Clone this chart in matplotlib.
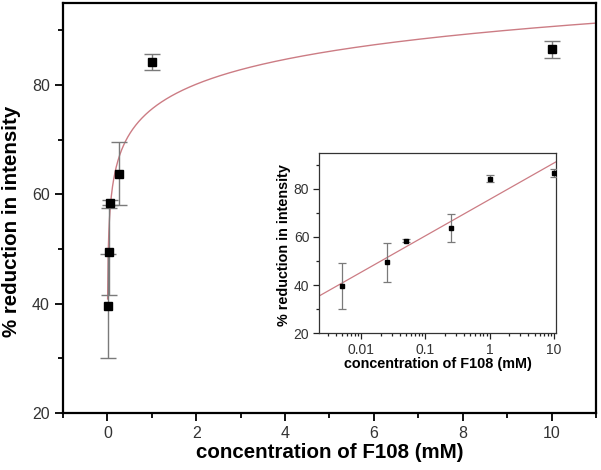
import numpy as np
import matplotlib
matplotlib.use("Agg")
import matplotlib.pyplot as plt
from matplotlib.ticker import MultipleLocator, LogLocator, NullFormatter, FixedLocator

plt.rcParams["font.family"] = ["Liberation Sans", "DejaVu Sans"]

# data
conc = [0.005, 0.025, 0.05, 0.25, 1.0, 10.0]          # mM F108
reduction = [39.5, 49.5, 58.5, 63.8, 84.2, 86.5]     # % reduction in intensity
err = [9.5, 8.0, 0.5, 5.8, 1.5, 1.6]

# log fit: y = a + b*log10(x)
fit_a = 75.6
fit_b = 15.1

fit_color = "#cc7c84"
err_color = "#7a7a7a"
tick_color = "#333333"

fig = plt.figure(figsize=(6.01, 4.70), dpi=100)

# ---- main axes ----
ax = fig.add_axes([0.1048, 0.1213, 0.8869, 0.8723])
x_fit = np.linspace(0.005, 11, 800)
ax.plot(x_fit, fit_a + fit_b * np.log10(x_fit), color=fit_color, lw=1.0, zorder=2)
ax.errorbar(conc, reduction, yerr=err, fmt="s", ms=6, mfc="black", mec="black",
            ecolor=err_color, elinewidth=1.0, capsize=6, capthick=1.0, zorder=3)
ax.set_xlim(-1, 11)
ax.set_ylim(20, 95)
ax.xaxis.set_major_locator(MultipleLocator(2))
ax.xaxis.set_minor_locator(MultipleLocator(1))
ax.yaxis.set_major_locator(FixedLocator([20, 40, 60, 80]))
ax.yaxis.set_minor_locator(FixedLocator([30, 50, 70, 90]))
ax.tick_params(which="both", direction="out", width=1.3, colors="black",
               labelcolor=tick_color, labelsize=11.5, top=False, right=False)
ax.tick_params(which="major", length=6, pad=3.5)
ax.tick_params(which="minor", length=3.5)
for s in ax.spines.values():
    s.set_linewidth(1.6)
ax.set_xlabel("concentration of F108 (mM)", fontsize=14.8, fontweight="bold")
ax.set_ylabel("% reduction in intensity", fontsize=14.8, fontweight="bold")
ax.xaxis.set_label_coords(0.5, -0.072)
ax.yaxis.set_label_coords(-0.078, 0.468)

# ---- inset (log x) ----
ins = fig.add_axes([0.5308, 0.2908, 0.3943, 0.3843])
x_fit2 = np.logspace(np.log10(0.0022), np.log10(10.8), 200)
ins.plot(x_fit2, fit_a + fit_b * np.log10(x_fit2), color=fit_color, lw=0.9, zorder=2)
ins.errorbar(conc, reduction, yerr=err, fmt="s", ms=2.8, mfc="black", mec="black",
             ecolor=err_color, elinewidth=0.9, capsize=3, capthick=0.9, zorder=3)
ins.set_xscale("log")
ins.set_xlim(0.0022, 10.8)
ins.set_ylim(20, 95)
ins.set_xticks([0.01, 0.1, 1, 10])
ins.set_xticklabels(["0.01", "0.1", "1", "10"])
ins.xaxis.set_minor_locator(LogLocator(base=10, subs=np.arange(2, 10)))
ins.xaxis.set_minor_formatter(NullFormatter())
ins.yaxis.set_major_locator(FixedLocator([20, 40, 60, 80]))
ins.yaxis.set_minor_locator(FixedLocator([30, 50, 70, 90]))
ins.tick_params(which="both", direction="out", width=0.9, colors="#222222",
                labelcolor=tick_color, labelsize=10, top=False, right=False)
ins.tick_params(which="major", length=4, pad=3)
ins.tick_params(which="minor", length=2.5)
for s in ins.spines.values():
    s.set_linewidth(0.9)
    s.set_color("#333333")
ins.set_xlabel("concentration of F108 (mM)", fontsize=10.4, fontweight="bold")
ins.set_ylabel("% reduction in intensity", fontsize=10.4, fontweight="bold")
ins.xaxis.set_label_coords(0.5, -0.133)
ins.yaxis.set_label_coords(-0.12, 0.49)

fig.savefig("out.png", dpi=100)
